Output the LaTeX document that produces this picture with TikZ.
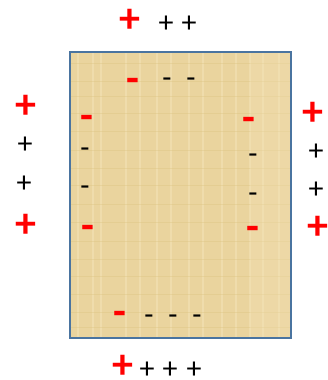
\documentclass[tikz,border=0pt]{standalone}
\usepackage{fontspec}
\setmainfont{Carlito}
\definecolor{papyrus}{HTML}{EAD49E}
\definecolor{papyruslight}{HTML}{F3E2B6}
\definecolor{papyrusdark}{HTML}{D9C07E}
\definecolor{frameblue}{HTML}{4A74A0}

\begin{document}
\begin{tikzpicture}[x=1pt, y=-1pt,
        every node/.style={inner sep=0pt, font=\fontsize{30}{30}\selectfont},
        bigcharge/.style={text=red, font=\fontsize{42}{42}\bfseries\selectfont},
        smallcharge/.style={text=black},
        bigminus/.style={bigcharge, yshift=-5pt},
        smallminus/.style={smallcharge, yshift=-3.5pt}]
        \useasboundingbox (0,0) rectangle (327,380);
        % the sheet, with a faint papyrus weave
        \fill[papyrus] (70,52) rectangle (291,338);
        \begin{scope}
            \clip (70,52) rectangle (291,338);
            \foreach \x in {78,93,101,126,140,157,171,189,203,222,236,250,263,279}
                \draw[papyruslight, line width=1.5pt, opacity=0.6] (\x,52) -- (\x,338);
            \foreach \y in {63,81,96,113,131,150,168,185,204,222,241,259,276,294,312,327}
                \draw[papyrusdark, line width=1pt, opacity=0.35] (70,\y) -- (291,\y);
            \fill[papyruslight, opacity=0.35] (250,52) rectangle (291,338);
        \end{scope}
        \draw[frameblue, line width=2.5pt] (70,52) rectangle (291,338);
        % charges outside
        \node[bigcharge] (pt1) at (130,21) {+};
        \node[smallcharge] (pt2) at (166,24) {+};
        \node[smallcharge] (pt3) at (189,24) {+};
        \node[bigcharge] (pl1) at (26,107) {+};
        \node[smallcharge] (pl2) at (25,145) {+};
        \node[smallcharge] (pl3) at (24,184) {+};
        \node[bigcharge] (pl4) at (26,226) {+};
        \node[bigcharge] (pr1) at (313,114) {+};
        \node[smallcharge] (pr2) at (316,152) {+};
        \node[smallcharge] (pr3) at (316,190) {+};
        \node[bigcharge] (pr4) at (318,228) {+};
        \node[bigcharge] (pb1) at (123,367) {+};
        \node[smallcharge] (pb2) at (147,370) {+};
        \node[smallcharge] (pb3) at (170,370) {+};
        \node[smallcharge] (pb4) at (194,370) {+};
        % charges on the sheet
        \node[bigminus] (mt1) at (133,80) {-};
        \node[smallminus] (mt2) at (167,79) {-};
        \node[smallminus] (mt3) at (191,79) {-};
        \node[bigminus] (ml1) at (87,117) {-};
        \node[smallminus] (ml2) at (85,149) {-};
        \node[smallminus] (ml3) at (85,187) {-};
        \node[bigminus] (ml4) at (88,227) {-};
        \node[bigminus] (mr1) at (249,119) {-};
        \node[smallminus] (mr2) at (253,155) {-};
        \node[smallminus] (mr3) at (253,194) {-};
        \node[bigminus] (mr4) at (253,228) {-};
        \node[bigminus] (mb1) at (120,313) {-};
        \node[smallminus] (mb2) at (149,316) {-};
        \node[smallminus] (mb3) at (173,316) {-};
        \node[smallminus] (mb4) at (197,316) {-};
\end{tikzpicture}
\end{document}
